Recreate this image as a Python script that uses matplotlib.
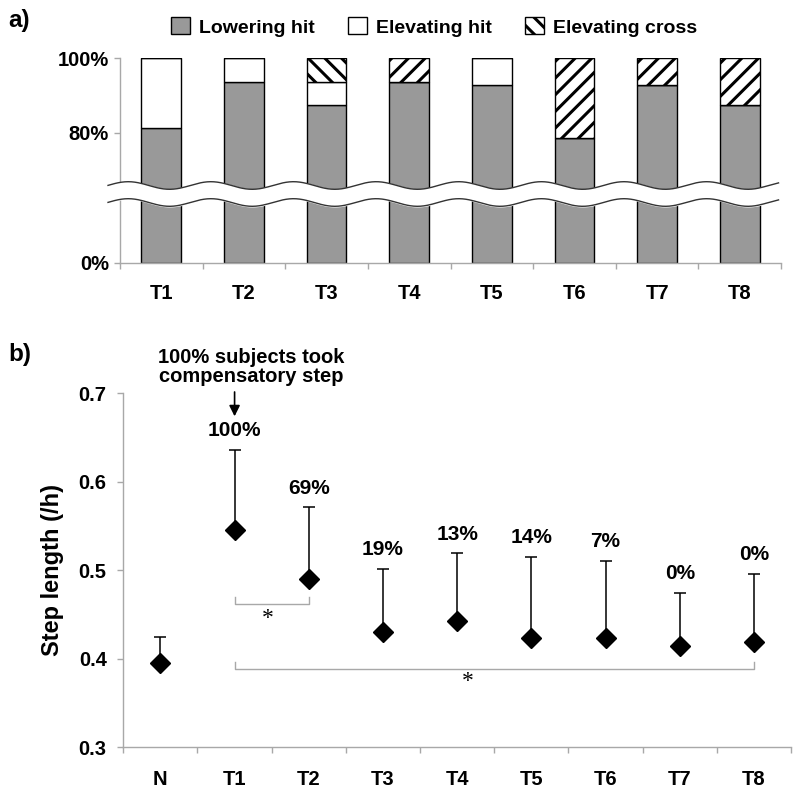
import matplotlib.pyplot as plt
from matplotlib.patches import Patch
import numpy as np

plt.rcParams['font.family'] = ['Liberation Sans', 'DejaVu Sans']
plt.rcParams['font.weight'] = 'bold'
plt.rcParams['axes.labelweight'] = 'bold'
plt.rcParams['hatch.linewidth'] = 2.2

# a) type of response per trial (% of subjects)
trials = ['T1', 'T2', 'T3', 'T4', 'T5', 'T6', 'T7', 'T8']
lowering_hit = [81.25, 93.75, 87.5, 93.75, 92.86, 78.57, 92.86, 87.5]
elevating_hit = [18.75, 6.25, 6.25, 0, 7.14, 0, 0, 0]
elevating_cross = [0, 0, 6.25, 6.25, 0, 21.43, 7.14, 12.5]
cross_hatch = ['//', '//', '\\\\', '//', '//', '//', '//', '//']

# b) step length (/h), mean and upper SD
conditions = ['N', 'T1', 'T2', 'T3', 'T4', 'T5', 'T6', 'T7', 'T8']
step_mean = [0.395, 0.545, 0.490, 0.430, 0.443, 0.424, 0.423, 0.415, 0.419]
step_sd = [0.030, 0.091, 0.081, 0.071, 0.076, 0.091, 0.088, 0.059, 0.077]
comp_step = ['', '100%', '69%', '19%', '13%', '14%', '7%', '0%', '0%']
sig_pairs = [(1, 2), (1, 8)]
sig_levels = [0.462, 0.388]

GRAY = '#999999'
AXC = '#a8a8a8'

W, H = 800, 793
fig = plt.figure(figsize=(8, 7.93), dpi=100)


def fig_box(x0, y0, x1, y1):
    # pixel box (top-left origin) -> figure fraction
    return [x0 / W, 1 - y1 / H, (x1 - x0) / W, (y1 - y0) / H]


def style_axes(ax):
    for s in ['top', 'right']:
        ax.spines[s].set_visible(False)
    for s in ['left', 'bottom']:
        ax.spines[s].set_color(AXC)
        ax.spines[s].set_linewidth(1)
    ax.tick_params(axis='both', which='both', color=AXC, width=1)


######### a)
ax_top = fig.add_axes(fig_box(120, 57.7, 781, 194))
ax_bot = fig.add_axes(fig_box(120, 194, 781, 262.7))
xa = np.arange(len(trials))
low = np.array(lowering_hit)
elev = np.array(elevating_hit)

for ax in (ax_top, ax_bot):
    ax.bar(xa, low, width=0.48, color=GRAY, edgecolor='black', lw=1)
    ax.bar(xa, elev, bottom=low, width=0.48, color='white', edgecolor='black', lw=1)
    ax.bar(xa, elevating_cross, bottom=low + elev, width=0.48, color='white',
           edgecolor='black', lw=1, hatch=cross_hatch)
    style_axes(ax)
    ax.set_xlim(-0.5, 7.5)

ax_top.set_ylim(63.45, 100.2)
ax_top.spines['bottom'].set_visible(False)
ax_top.set_xticks([])
ax_top.set_yticks([80, 100])
ax_top.set_yticklabels(['80%', '100%'], fontsize=14.5)
ax_top.tick_params(axis='y', length=4, pad=4)

ax_bot.set_ylim(0, 40)
ax_bot.set_yticks([0])
ax_bot.set_yticklabels(['0%'], fontsize=14.5)
ax_bot.tick_params(axis='y', length=4, pad=4)
ax_bot.set_xticks(xa)
ax_bot.set_xticklabels(trials, fontsize=14.5)
ax_bot.set_xticks(np.arange(-0.5, 8, 1), minor=True)
ax_bot.tick_params(axis='x', which='major', length=0, pad=15)
ax_bot.tick_params(axis='x', which='minor', length=4)

# axis break band
ax_brk = fig.add_axes(fig_box(120, 175, 781, 215))
ax_brk.set_xlim(-0.5, 7.5)
ax_brk.set_ylim(215, 175)
ax_brk.axis('off')
ax_brk.set_zorder(5)
wx = np.linspace(-0.645, 7.47, 400)
wave_up = 185.5 + 3.8 * np.cos(2 * np.pi * (wx - 0.1))
wave_lo = wave_up + 17
ax_brk.fill_between(wx, wave_up, wave_lo, color='white', clip_on=False, zorder=1)
ax_brk.plot(wx, wave_up, color='#333333', lw=1, clip_on=False, zorder=2)
ax_brk.plot(wx, wave_lo, color='#333333', lw=1, clip_on=False, zorder=2)

handles = [Patch(facecolor=GRAY, edgecolor='black', lw=1),
           Patch(facecolor='white', edgecolor='black', lw=1),
           Patch(facecolor='white', edgecolor='black', lw=1, hatch='\\\\')]
fig.legend(handles, ['Lowering hit', 'Elevating hit', 'Elevating cross'],
           ncol=3, loc='center', bbox_to_anchor=(434 / W, 1 - 27 / H),
           frameon=False, fontsize=14, handlelength=1.0, handleheight=0.95,
           handletextpad=0.45, columnspacing=1.7)

fig.text(8 / W, 1 - 20.5 / H, 'a)', fontsize=17.5, va='center', ha='left')

######### b)
ax_b = fig.add_axes(fig_box(123.3, 393.3, 791, 747.3))
xb = np.arange(len(conditions))
style_axes(ax_b)

ax_b.errorbar(xb, step_mean, yerr=[np.zeros(len(xb)), step_sd], fmt='none',
              ecolor='black', elinewidth=1.1, capsize=4, capthick=1.1, zorder=2)
ax_b.plot(xb, step_mean, 'D', color='black', ms=10, zorder=3)

for i, lab in enumerate(comp_step):
    if lab:
        ax_b.annotate(lab, (xb[i], step_mean[i] + step_sd[i]), xytext=(0, 14),
                      textcoords='offset points', ha='center', va='center',
                      fontsize=15)

for (i, j), lev in zip(sig_pairs, sig_levels):
    ax_b.plot([xb[i], xb[i], xb[j], xb[j]], [lev + 0.008, lev, lev, lev + 0.008],
              color=AXC, lw=1, zorder=1)
ax_b.text(1.45, 0.446, '*', ha='center', va='center', fontsize=17,
          family='Liberation Serif', fontweight='normal')
ax_b.text(4.15, 0.374, '*', ha='center', va='center', fontsize=17,
          family='Liberation Serif', fontweight='normal')

ax_b.annotate('', xy=(1, 0.674), xytext=(1, 0.7015),
              arrowprops=dict(arrowstyle='-|>', color='black', lw=1.2,
                              mutation_scale=16, shrinkA=0, shrinkB=0),
              annotation_clip=False)
ax_b.text(1.23, 0.7297, '100% subjects took\ncompensatory step', ha='center',
          va='center', fontsize=14.5, linespacing=0.95, clip_on=False)

ax_b.set_xlim(-0.5, 8.5)
ax_b.set_ylim(0.3, 0.7)
ax_b.set_yticks([0.3, 0.4, 0.5, 0.6, 0.7])
ax_b.set_yticklabels(['0.3', '0.4', '0.5', '0.6', '0.7'], fontsize=14.5)
ax_b.tick_params(axis='y', length=4, pad=8)
ax_b.set_xticks(xb)
ax_b.set_xticklabels(conditions, fontsize=14.5)
ax_b.set_xticks(np.arange(-0.5, 9, 1), minor=True)
ax_b.tick_params(axis='x', which='major', length=0, pad=16)
ax_b.tick_params(axis='x', which='minor', length=4)
ax_b.set_ylabel('Step length (/h)', fontsize=17, fontweight='bold')
ax_b.yaxis.set_label_coords(-0.089, 0.5)

fig.text(8 / W, 1 - 355 / H, 'b)', fontsize=17.5, va='center', ha='left')

fig.savefig('out.png', dpi=100)
